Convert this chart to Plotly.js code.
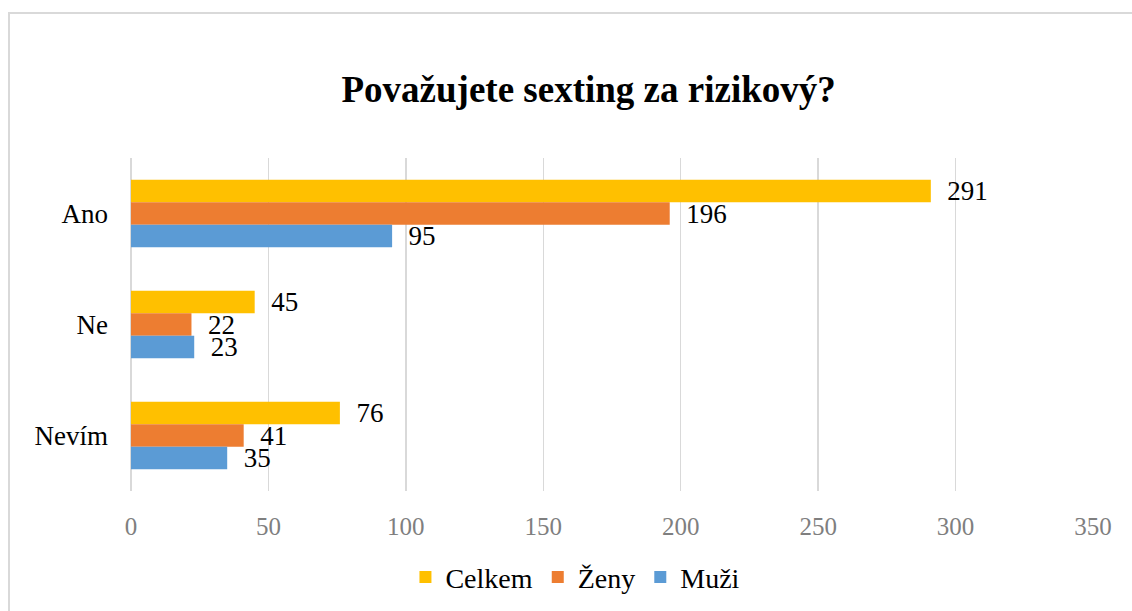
<!DOCTYPE html>
<html>
<head>
<meta charset="utf-8">
<script src="https://cdn.plot.ly/plotly-3.0.1.min.js"></script>
<style>
  html, body { margin: 0; padding: 0; background: #ffffff; overflow: hidden; }
  #wrap { position: relative; width: 1132px; height: 611px; }
  #chart { position: absolute; left: 0; top: 0; width: 1132px; height: 611px; }
  #frame { position: absolute; left: 8px; top: 12px; width: 1140px; height: 620px;
           border: 2px solid #d9d9d9; pointer-events: none; }
</style>
</head>
<body>
<div id="wrap">
  <div id="chart"></div>
  <div id="frame"></div>
</div>
<script>
const categories = ["Ano", "Ne", "Nevím"];
const celkem = [291, 45, 76];
const zeny = [196, 22, 41];
const muzi = [95, 23, 35];
const seriesNames = ["Celkem", "Ženy", "Muži"];
const seriesColors = ["#FFC000", "#ED7D31", "#5B9BD5"];
const xTicks = [0, 50, 100, 150, 200, 250, 300, 350];

const FONT = "'Liberation Serif', 'Times New Roman', serif";
const seriesValues = [celkem, zeny, muzi];

const traces = seriesValues.map((vals, i) => ({
  type: "bar",
  orientation: "h",
  name: seriesNames[i],
  y: categories,
  x: vals,
  marker: { color: seriesColors[i] },
  text: vals.map(v => "\u00a0\u00a0" + v),
  textposition: "outside",
  textfont: { family: FONT, size: 27, color: "#000000" },
  constraintext: "none",
  cliponaxis: false,
  hoverinfo: "x+name"
}));

const layout = {
  width: 1132,
  height: 611,
  font: { family: FONT },
  paper_bgcolor: "rgba(0,0,0,0)",
  plot_bgcolor: "rgba(0,0,0,0)",
  margin: { l: 131, r: 39, t: 158, b: 120 },
  barmode: "group",
  bargap: 0.39,
  bargroupgap: 0,
  title: {
    text: "<b>Považujete sexting za rizikový?</b>",
    font: { family: FONT, size: 37, color: "#000000" },
    x: 0.52,
    xanchor: "center",
    y: 0.855,
    yanchor: "middle",
    yref: "container"
  },
  xaxis: {
    range: [0, 350],
    tickvals: xTicks,
    ticktext: xTicks.map(String),
    showgrid: true,
    gridcolor: "#d9d9d9",
    gridwidth: 1.3,
    zeroline: true,
    zerolinecolor: "#d9d9d9",
    zerolinewidth: 1.3,
    showline: false,
    ticks: "",
    ticklabelstandoff: 18,
    tickfont: { family: FONT, size: 25, color: "#7f7f7f" },
    fixedrange: true
  },
  yaxis: {
    autorange: "reversed",
    type: "category",
    showgrid: false,
    zeroline: false,
    showline: false,
    ticks: "",
    ticklabelstandoff: 22,
    tickfont: { family: FONT, size: 27, color: "#000000" },
    fixedrange: true
  },
  showlegend: true,
  legend: {
    orientation: "h",
    x: 0.462,
    xanchor: "center",
    y: 0.055,
    yref: "container",
    yanchor: "middle",
    traceorder: "normal",
    font: { family: FONT, size: 28, color: "#000000" },
    itemwidth: 30,
    bgcolor: "rgba(0,0,0,0)"
  }
};

Plotly.newPlot("chart", traces, layout, { displayModeBar: false, staticPlot: true });
</script>
</body>
</html>
